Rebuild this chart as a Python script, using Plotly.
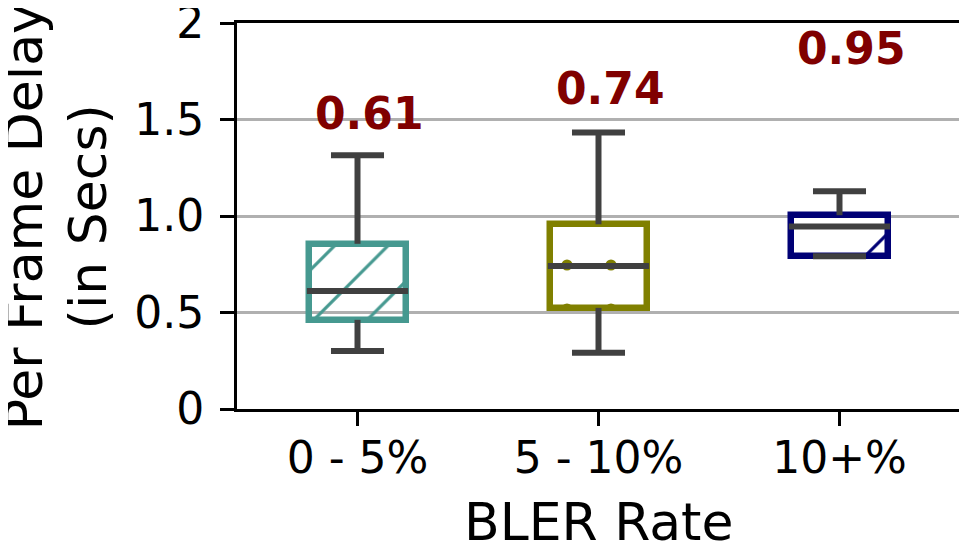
import plotly.graph_objects as go

categories = ["0 - 5%", "5 - 10%", "10+%"]
q1 = [0.462, 0.524, 0.791]
median = [0.611, 0.741, 0.945]
q3 = [0.856, 0.957, 1.004]
lower = [0.300, 0.292, 0.791]
upper = [1.315, 1.433, 1.128]
median_labels = ["0.61", "0.74", "0.95"]
label_y = [1.53, 1.66, 1.87]

edge_colors = ["#469990", "#808000", "#000075"]
hatch_shapes = ["/", ".", "x"]
hatch_sizes = [37.75, 44, 203]
hatch_solidity = [0.085, 0.049, 0.03]

y_tickvals = [0, 0.5, 1.0, 1.5, 2.0]
y_ticktext = ["0", "0.5", "1.0", "1.5", "2"]

FONT = "DejaVu Sans"
WHISKER = "#404040"
BOX_W = 0.4
CAP_W = 0.11
MED_W = 0.21

xs = list(range(len(categories)))

fig = go.Figure()

fig.add_trace(go.Bar(
    x=xs,
    base=q1,
    y=[b - a for a, b in zip(q1, q3)],
    width=BOX_W,
    marker=dict(
        color="rgba(0,0,0,0)",
        line=dict(color=edge_colors, width=6.5),
        pattern=dict(
            shape=hatch_shapes,
            fgcolor=edge_colors,
            bgcolor="rgba(0,0,0,0)",
            fgopacity=1,
            size=hatch_sizes,
            solidity=hatch_solidity,
            fillmode="overlay",
        ),
    ),
    showlegend=False,
    hoverinfo="skip",
))

wx, wy = [], []
for i in xs:
    wx += [i, i, None, i - CAP_W, i + CAP_W, None]
    wy += [q3[i], upper[i], None, upper[i], upper[i], None]
    wx += [i, i, None, i - CAP_W, i + CAP_W, None]
    wy += [q1[i], lower[i], None, lower[i], lower[i], None]
    wx += [i - MED_W, i + MED_W, None]
    wy += [median[i], median[i], None]

fig.add_trace(go.Scatter(
    x=wx, y=wy, mode="lines",
    line=dict(color=WHISKER, width=6),
    showlegend=False, hoverinfo="skip",
))

for i in xs:
    fig.add_annotation(
        x=i + 0.05, y=label_y[i], text=median_labels[i], showarrow=False,
        xanchor="center", yanchor="middle",
        font=dict(family=FONT, size=44, color="#800000", weight="bold"),
    )

fig.add_annotation(
    xref="paper", yref="paper", x=0.5, y=-0.292, text="BLER Rate",
    showarrow=False, xanchor="center", yanchor="middle",
    font=dict(family=FONT, size=52, color="black"),
)
fig.add_annotation(
    xref="paper", yref="paper", x=-0.2935, y=0.499, text="Per Frame Delay",
    showarrow=False, xanchor="center", yanchor="middle", textangle=-90,
    font=dict(family=FONT, size=52, color="black"),
)
fig.add_annotation(
    xref="paper", yref="paper", x=-0.2061, y=0.499, text="(in Secs)",
    showarrow=False, xanchor="center", yanchor="middle", textangle=-90,
    font=dict(family=FONT, size=52, color="black"),
)

# page body has an 8px margin, so the figure is sized to fill the rest of the window
fig.update_layout(
    width=959, height=551,
    margin=dict(l=229, r=7, t=15, b=150, autoexpand=False),
    paper_bgcolor="white", plot_bgcolor="white",
    font=dict(family=FONT, size=44, color="black"),
    bargap=0,
)
fig.update_xaxes(
    range=[-0.5, 2.5], tickvals=xs, ticktext=categories,
    showline=True, mirror=True, linecolor="black", linewidth=3,
    ticks="outside", ticklen=14, tickwidth=3, tickcolor="black",
    showgrid=False, zeroline=False, automargin=False,
    ticklabeloverflow="allow", ticklabelstandoff=-6,
    tickfont=dict(family=FONT, size=44, color="black"),
)
fig.update_yaxes(
    range=[0, 2], tickvals=y_tickvals, ticktext=y_ticktext,
    showline=True, mirror=True, linecolor="black", linewidth=3,
    ticks="outside", ticklen=14, tickwidth=3, tickcolor="black",
    showgrid=True, gridcolor="#b0b0b0", gridwidth=3, zeroline=False,
    automargin=False, ticklabeloverflow="allow", ticklabelstandoff=7,
    tickfont=dict(family=FONT, size=44, color="black"),
)

fig.write_html("out.html")
